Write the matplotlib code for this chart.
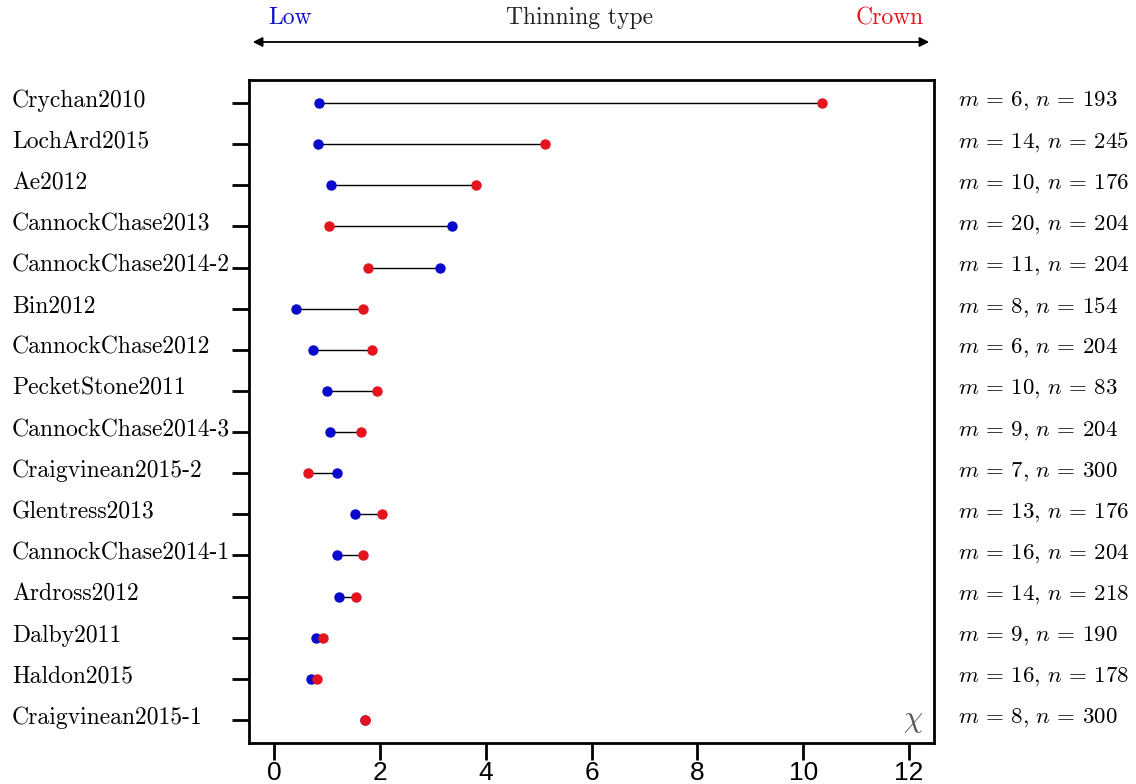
import numpy as np
import matplotlib.pyplot as plt
import matplotlib.transforms as mtransforms
from matplotlib.patches import FancyArrowPatch

sites = ['Crychan2010', 'LochArd2015', 'Ae2012', 'CannockChase2013',
         'CannockChase2014-2', 'Bin2012', 'CannockChase2012', 'PecketStone2011',
         'CannockChase2014-3', 'Craigvinean2015-2', 'Glentress2013',
         'CannockChase2014-1', 'Ardross2012', 'Dalby2011', 'Haldon2015',
         'Craigvinean2015-1']
low = [0.85, 0.83, 1.07, 3.37, 3.13, 0.41, 0.73, 1.00,
       1.06, 1.19, 1.54, 1.19, 1.23, 0.80, 0.70, 1.72]
crown = [10.36, 5.12, 3.82, 1.04, 1.77, 1.69, 1.85, 1.95,
         1.65, 0.64, 2.04, 1.68, 1.55, 0.93, 0.81, 1.73]
m_vals = [6, 14, 10, 20, 11, 8, 6, 10, 9, 7, 13, 16, 14, 9, 16, 8]
n_vals = [193, 245, 176, 204, 204, 154, 204, 83, 204, 300, 176, 204, 218, 190, 178, 300]

blue = '#0a0acc'
red = '#e3141e'

plt.rcParams['mathtext.fontset'] = 'cm'
plt.rcParams['axes.unicode_minus'] = False

fig = plt.figure(figsize=(11.36, 7.84), dpi=100)
ax = fig.add_axes([249/1136, 1 - 743/784, 685/1136, 663/784])

y = np.arange(len(sites))
for i in range(len(sites)):
    ax.plot([low[i], crown[i]], [y[i], y[i]], color='black', linewidth=1, zorder=1)
ax.plot(low, y, 'o', color=blue, markersize=6.5, zorder=2)
ax.plot(crown, y, 'o', color=red, markersize=6.5, zorder=3)

ax.set_xlim(-0.47, 12.47)
ax.set_ylim(len(sites) - 0.44, -0.56)
ax.set_xticks([0, 2, 4, 6, 8, 10, 12])
ax.set_xticklabels(['0', '2', '4', '6', '8', '10', '12'],
                   fontfamily=['Liberation Sans Narrow', 'Liberation Sans'], fontsize=19)
ax.set_yticks(y)
ax.set_yticklabels([])
ax.tick_params(axis='both', direction='out', length=12, width=2)
ax.tick_params(axis='x', pad=1)
for s in ax.spines.values():
    s.set_linewidth(2)

trans = mtransforms.blended_transform_factory(fig.transFigure, ax.transData)
for i in range(len(sites)):
    fig.text(12/1136, y[i] - 0.05, sites[i], transform=trans, ha='left', va='center',
             fontfamily='cmr10', fontsize=17)
    fig.text(958/1136, y[i] - 0.05,
             r'$m\,=\,%d,\,n\,=\,%d$' % (m_vals[i], n_vals[i]),
             transform=trans, ha='left', va='center', fontsize=16.5)

ax.text(0.985, 0.012, r'$\chi$', transform=ax.transAxes, ha='right', va='bottom',
        fontsize=22, color='#555555')

# thinning type header
fig.text(290/1136, 1 - 18/784, 'Low', color=blue, ha='center', va='center',
         fontfamily='cmr10', fontsize=17)
fig.text(580/1136, 1 - 18/784, 'Thinning type', color='#222222', ha='center', va='center',
         fontfamily='cmr10', fontsize=17)
fig.text(890/1136, 1 - 18/784, 'Crown', color=red, ha='center', va='center',
         fontfamily='cmr10', fontsize=17)
fig.add_artist(FancyArrowPatch(
    (250/1136, 1 - 42/784), (932/1136, 1 - 42/784), transform=fig.transFigure,
    arrowstyle='<|-|>', mutation_scale=14, color='black', linewidth=1.3))

fig.savefig('out.png', dpi=100)
